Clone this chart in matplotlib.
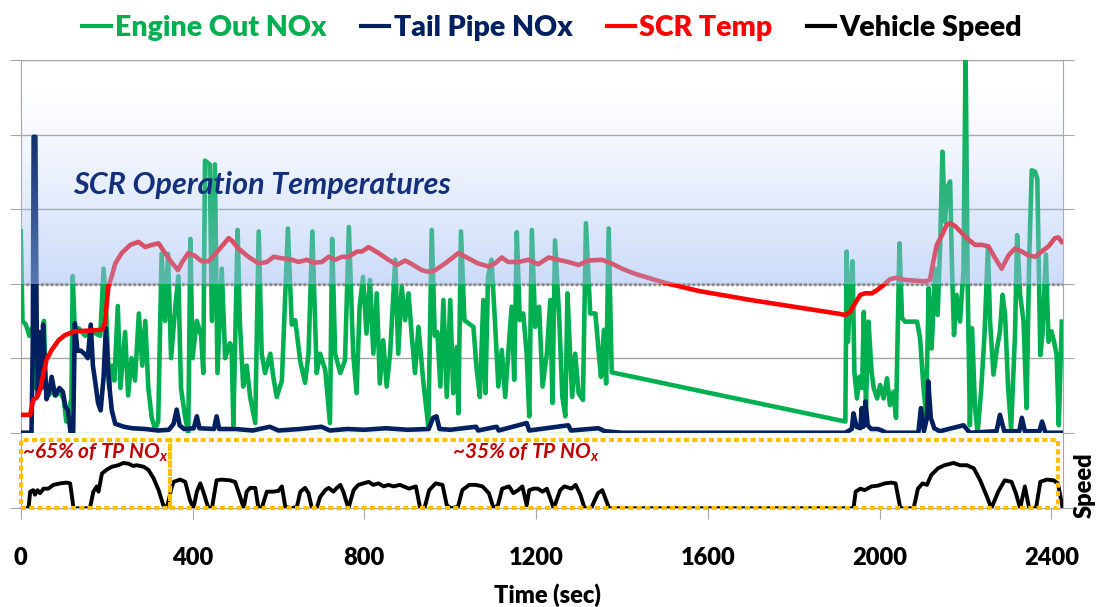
import numpy as np
import matplotlib.pyplot as plt
from matplotlib.lines import Line2D
from matplotlib.patches import Rectangle

# (time sec, value) -- NOx in chart grid units, temp in deg C, speed in mph
engine_out_nox = [
    (0, 2.7), (4, 1.5), (12, 1.45), (20, 1.3), (26, 1.4), (30, 1.35), (33, 0.6), (38, 1.3),
    (44, 0.6), (48, 0.9), (54, 1.5), (58, 0.6), (64, 0.5), (72, 0.55), (82, 0.5), (92, 0.55),
    (100, 0.45), (106, 0.15), (112, 0.3), (118, 0.45), (121, 2.1), (126, 1.35), (135, 1.4),
    (150, 1.3), (168, 1.35), (185, 1.3), (193, 2.2), (199, 1.6), (206, 0.6), (212, 0.9),
    (218, 0.7), (226, 1.7), (232, 0.6), (243, 1.35), (250, 0.5), (258, 1.0), (266, 0.7),
    (275, 1.6), (283, 0.9), (290, 1.5), (297, 0.6), (305, 0.2), (313, 0.05), (320, 0.15),
    (328, 2.4), (336, 1.5), (343, 2.4), (350, 1.0), (360, 1.7), (367, 2.1), (373, 0.6),
    (383, 0.2), (390, 0.0), (395, 2.6), (400, 1.0), (410, 1.5), (420, 1.3), (425, 0.8),
    (429, 3.65), (440, 3.6), (445, 1.5), (452, 3.6), (458, 0.8), (468, 2.2), (476, 1.0),
    (487, 1.2), (491, 1.15), (495, 0.1), (505, 2.72), (510, 1.5), (518, 0.62), (526, 0.9),
    (534, 0.48), (546, 0.13), (554, 2.7), (561, 1.06), (569, 0.8), (581, 1.06), (588, 0.75),
    (596, 0.48), (608, 0.7), (622, 2.74), (631, 1.45), (639, 1.51), (651, 0.95), (662, 0.67),
    (670, 1.06), (679, 2.7), (689, 0.8), (697, 1.06), (709, 0.84), (720, 0.13), (725, 2.6),
    (732, 1.06), (744, 0.8), (755, 0.97), (764, 2.76), (774, 1.06), (782, 0.53), (789, 1.69),
    (797, 2.09), (805, 1.33), (813, 2.05), (821, 1.06), (829, 1.87), (836, 0.66), (844, 1.24),
    (852, 0.62), (860, 1.06), (872, 2.32), (879, 1.06), (887, 1.96), (895, 1.51), (903, 1.87),
    (910, 1.33), (918, 0.8), (926, 1.42), (937, 0.7), (949, 0.08), (957, 2.72), (964, 1.3),
    (970, 1.35), (977, 0.62), (984, 1.78), (992, 0.48), (1000, 1.78), (1007, 0.53), (1015, 1.15),
    (1019, 0.26), (1025, 2.7), (1033, 1.51), (1042, 1.47), (1054, 1.42), (1061, 0.89),
    (1069, 0.48), (1077, 1.78), (1082, 0.53), (1088, 2.09), (1096, 2.32), (1104, 1.51),
    (1112, 0.62), (1120, 1.11), (1128, 0.48), (1135, 1.06), (1143, 1.69), (1149, 0.71),
    (1155, 2.69), (1162, 1.51), (1170, 1.6), (1178, 1.06), (1184, 0.22), (1190, 2.72),
    (1198, 1.42), (1207, 1.69), (1215, 0.62), (1225, 1.06), (1233, 1.78), (1238, 0.4),
    (1244, 2.58), (1254, 1.51), (1261, 0.48), (1268, 0.22), (1273, 1.87), (1279, 1.06),
    (1284, 0.48), (1291, 1.06), (1299, 0.53), (1309, 0.44), (1316, 2.81), (1326, 1.6),
    (1338, 1.6), (1346, 1.06), (1351, 0.75), (1358, 1.38), (1363, 0.66), (1369, 2.74),
    (1376, 0.81), (1920, 0.15), (1923, 2.43), (1926, 1.22), (1932, 1.94), (1937, 2.3),
    (1941, 0.82), (1947, 0.46), (1953, 0.75), (1959, 0.6), (1963, 1.62), (1968, 0.37),
    (1974, 1.49), (1981, 0.82), (1986, 0.6), (1994, 0.46), (2001, 0.64), (2009, 0.46),
    (2017, 0.73), (2024, 0.37), (2032, 0.55), (2038, 0.2), (2046, 2.54), (2052, 1.54),
    (2059, 1.49), (2075, 1.49), (2087, 1.49), (2094, 1.27), (2102, 0.6), (2108, 0.24),
    (2114, 1.94), (2121, 1.13), (2129, 2.2), (2135, 1.58), (2141, 2.56), (2146, 3.77),
    (2152, 2.83), (2157, 3.28), (2164, 3.37), (2168, 2.3), (2173, 1.31), (2179, 1.85),
    (2187, 1.49), (2195, 2.17), (2200, 5.07), (2205, 1.94), (2210, 0.1), (2215, 1.4),
    (2222, 0.33), (2228, 0.0), (2236, 0.55), (2244, 1.31), (2252, 2.48), (2257, 1.49),
    (2265, 0.78), (2273, 1.13), (2280, 1.36), (2286, 1.85), (2292, 1.58), (2299, 0.6),
    (2306, 0.06), (2315, 1.31), (2320, 2.65), (2327, 1.85), (2335, 1.49), (2342, 0.33),
    (2348, 2.3), (2354, 3.52), (2362, 3.5), (2367, 3.4), (2374, 1.04), (2379, 1.31),
    (2387, 2.39), (2393, 1.22), (2400, 1.36), (2406, 1.22), (2412, 1.04), (2417, 0.1),
    (2424, 1.49),
]

tail_pipe_nox = [
    (0, 0.0), (25, 0.0), (28, 1.2), (30, 3.97), (34, 3.97), (37, 1.5), (40, 0.5), (43, 1.35),
    (48, 0.6), (52, 1.45), (56, 0.9), (60, 0.45), (66, 0.55), (72, 0.75), (80, 0.5), (90, 0.6),
    (98, 0.55), (104, 0.35), (110, 0.3), (116, 0.0), (122, 0.0), (126, 1.47), (132, 1.1),
    (140, 1.1), (150, 1.05), (156, 1.0), (163, 1.45), (168, 0.9), (173, 0.7), (180, 0.4),
    (186, 0.3), (193, 0.75), (198, 1.4), (205, 0.7), (212, 0.3), (220, 0.12), (240, 0.08),
    (260, 0.06), (290, 0.05), (320, 0.03), (345, 0.04), (356, 0.12), (363, 0.31), (370, 0.1),
    (380, 0.05), (403, 0.06), (410, 0.22), (416, 0.06), (450, 0.05), (456, 0.22), (462, 0.05),
    (500, 0.05), (540, 0.03), (580, 0.08), (600, 0.03), (650, 0.05), (700, 0.08), (720, 0.03),
    (760, 0.05), (800, 0.04), (850, 0.06), (900, 0.04), (950, 0.05), (960, 0.2), (968, 0.22),
    (975, 0.05), (1000, 0.04), (1060, 0.08), (1065, 0.03), (1108, 0.08), (1113, 0.03),
    (1178, 0.13), (1184, 0.03), (1275, 0.1), (1281, 0.03), (1345, 0.06), (1360, 0.02),
    (1400, 0.0), (1920, 0.0), (1935, 0.05), (1939, 0.26), (1946, 0.08), (1955, 0.06),
    (1958, 0.33), (1962, 0.08), (1967, 0.42), (1972, 0.1), (1980, 0.05), (1995, 0.05),
    (2005, 0.03), (2015, 0.0), (2090, 0.0), (2096, 0.33), (2103, 0.02), (2110, 0.2),
    (2113, 0.69), (2119, 0.2), (2127, 0.06), (2140, 0.02), (2195, 0.1), (2210, 0.0),
    (2272, 0.02), (2280, 0.24), (2290, 0.02), (2325, 0.02), (2331, 0.2), (2338, 0.02),
    (2372, 0.02), (2378, 0.15), (2386, 0.0), (2424, 0.0),
]

scr_temp = [
    (0, 24), (22, 24), (29, 44), (37, 47), (45, 58), (53, 80), (60, 98), (72, 111), (88, 124),
    (103, 131), (126, 136), (158, 137), (189, 138), (196, 147), (204, 196), (212, 210),
    (220, 227), (235, 241), (255, 252), (274, 256), (290, 249), (305, 252), (321, 254),
    (336, 241), (352, 228), (366, 218), (375, 228), (390, 241), (406, 237), (421, 230),
    (437, 230), (452, 239), (468, 250), (484, 261), (491, 258), (507, 247), (530, 236),
    (554, 227), (573, 229), (589, 236), (608, 234), (631, 232), (647, 229), (666, 232),
    (682, 228), (701, 229), (717, 236), (732, 232), (748, 236), (763, 236), (783, 243),
    (794, 243), (810, 249), (833, 241), (856, 232), (876, 225), (895, 231), (914, 225),
    (934, 218), (949, 216), (965, 218), (988, 227), (1019, 241), (1042, 234), (1065, 227),
    (1089, 223), (1104, 227), (1120, 235), (1135, 229), (1159, 229), (1182, 232), (1205, 226),
    (1229, 235), (1252, 232), (1275, 229), (1299, 225), (1322, 231), (1353, 232), (1376, 227),
    (1400, 220), (1431, 213), (1466, 207), (1500, 201), (1580, 190), (1700, 178), (1800, 169),
    (1900, 160), (1920, 158), (1931, 162), (1943, 174), (1955, 185), (1966, 187), (1982, 187),
    (1993, 191), (2009, 198), (2024, 206), (2040, 208), (2059, 205), (2083, 204), (2106, 203),
    (2117, 205), (2125, 230), (2133, 252), (2145, 265), (2156, 279), (2164, 281), (2176, 277),
    (2191, 268), (2207, 259), (2222, 252), (2238, 252), (2253, 250), (2269, 234), (2284, 220),
    (2300, 238), (2315, 247), (2331, 243), (2346, 238), (2362, 236), (2377, 243), (2393, 250),
    (2408, 261), (2416, 262), (2424, 256),
]

vehicle_speed = [
    (0, 0), (18, 0), (22, 22), (29, 24), (33, 18), (39, 24), (45, 20), (53, 26), (64, 26),
    (76, 31), (92, 33), (107, 34), (115, 33), (123, 0), (134, 0), (161, 0), (169, 22),
    (177, 29), (181, 22), (189, 46), (200, 51), (212, 55), (227, 57), (239, 60), (251, 59),
    (262, 56), (270, 57), (286, 55), (297, 51), (309, 40), (321, 24), (332, 4), (340, 0),
    (352, 29), (356, 35), (371, 38), (383, 35), (394, 11), (402, 0), (410, 22), (418, 33),
    (425, 22), (437, 0), (445, 0), (456, 37), (468, 38), (487, 37), (499, 35), (511, 15),
    (519, 0), (526, 22), (534, 27), (546, 27), (553, 2), (561, 0), (573, 22), (588, 22),
    (600, 23), (608, 29), (616, 2), (631, 0), (643, 2), (651, 22), (662, 27), (670, 20),
    (678, 0), (689, 0), (697, 15), (709, 24), (717, 27), (728, 22), (736, 27), (744, 31),
    (751, 22), (763, 0), (775, 24), (786, 31), (798, 33), (810, 35), (821, 31), (833, 33),
    (845, 29), (856, 31), (868, 29), (883, 31), (904, 26), (920, 29), (930, 0), (940, 0),
    (951, 24), (966, 33), (982, 31), (992, 4), (1002, 0), (1018, 2), (1028, 24), (1044, 31),
    (1059, 31), (1075, 29), (1090, 20), (1101, 0), (1111, 4), (1121, 26), (1137, 29),
    (1147, 20), (1158, 24), (1168, 29), (1178, 4), (1184, 24), (1194, 26), (1204, 26),
    (1215, 22), (1225, 26), (1241, 0), (1256, 24), (1266, 29), (1282, 26), (1292, 31),
    (1303, 18), (1313, 0), (1328, 0), (1344, 20), (1354, 24), (1370, 0), (1939, 0), (1944, 22),
    (1955, 26), (1965, 24), (1981, 29), (1996, 30), (2012, 33), (2027, 34), (2037, 33),
    (2048, 0), (2068, 0), (2079, 0), (2089, 26), (2100, 33), (2110, 31), (2120, 44), (2136, 53),
    (2151, 57), (2172, 60), (2187, 57), (2203, 57), (2219, 53), (2234, 37), (2250, 15),
    (2260, 0), (2276, 22), (2291, 37), (2307, 35), (2317, 20), (2327, 0), (2338, 29), (2348, 0),
    (2364, 0), (2374, 35), (2389, 38), (2405, 37), (2415, 33), (2426, 0),
]

series_labels = ["Engine Out NOx", "Tail Pipe NOx", "SCR Temp", "Vehicle Speed"]
share_edges = [0, 348, 2416]  # sec, where the TP NOx share boxes split
share_labels = ["~65% of TP NO$_x$", "~35% of TP NO$_x$"]
scr_window = (200, 460)  # deg C, shaded operating band (fades out at the top)
x_ticks = [0, 400, 800, 1200, 1600, 2000, 2400]

plt.rcParams["font.family"] = ["Lato", "DejaVu Sans"]
plt.rcParams["mathtext.fontset"] = "custom"
plt.rcParams["mathtext.it"] = "Lato:italic:bold"
plt.rcParams["mathtext.rm"] = "Lato:italic:bold"

GREEN = "#00b050"
NAVY = "#002060"
RED = "#ff0000"
GRID = "#a6a6a6"
GOLD = "#ffc000"
DARKRED = "#c00000"
TITLE_BLUE = "#14307a"

fig = plt.figure(figsize=(10.98, 6.07), dpi=100)
ax = fig.add_axes([0.0189, 0.2871, 0.9493, 0.6141])
sax = fig.add_axes([0.0189, 0.1626, 0.9493, 0.1245], sharex=ax)
tax = ax.twinx()

# NOx panel
t, v = zip(*engine_out_nox)
ax.plot(t, v, color=GREEN, lw=3.3, zorder=3, solid_joinstyle="round")
t, v = zip(*tail_pipe_nox)
ax.plot(t, v, color=NAVY, lw=3.3, zorder=4, solid_joinstyle="round")
ax.axhline(2, color="#8c8c8c", lw=2.5, ls=(0, (0.8, 0.6)), zorder=2)

ax.set_xlim(0, 2427)
ax.set_ylim(0, 5)
ax.set_yticks(range(6))
ax.grid(axis="y", color=GRID, lw=1)
ax.set_axisbelow(True)
ax.tick_params(axis="y", length=8, color=GRID, labelleft=False, right=True)
ax.tick_params(axis="x", length=0, labelbottom=False)
for side in ["left", "right", "top"]:
    ax.spines[side].set_color(GRID)
ax.spines["bottom"].set_visible(False)

# temperature on twin axis, SCR window shading drawn over everything above it
t, v = zip(*scr_temp)
tax.plot(t, v, color=RED, lw=3.3, zorder=2, solid_joinstyle="round")
tax.set_ylim(0, 500)
tax.set_yticks([])
for side in tax.spines:
    tax.spines[side].set_visible(False)

rows = 256
frac = np.linspace(0, 1, rows)
alpha = 0.55 * np.clip(1 - frac, 0, 1) ** 1.1
grad = np.zeros((rows, 2, 4))
grad[..., 0] = 0.64
grad[..., 1] = 0.75
grad[..., 2] = 0.96
grad[..., 3] = alpha[:, None]
tax.imshow(grad, origin="lower", aspect="auto", zorder=5,
           extent=[0, 2427, scr_window[0], scr_window[1]], interpolation="bilinear")
tax.set_xlim(0, 2427)
tax.set_ylim(0, 500)

tax.text(122, 3.32, "SCR Operation Temperatures", transform=ax.transData,
         color=TITLE_BLUE, fontsize=22, fontweight="bold", fontstyle="italic",
         va="center", ha="left", zorder=6)

# speed panel
t, v = zip(*vehicle_speed)
sax.plot(t, v, color="black", lw=2.8, zorder=2, solid_joinstyle="round")
sax.set_ylim(0, 100)
sax.set_xticks(x_ticks)
sax.set_yticks([0])
sax.tick_params(axis="x", length=8, color=GRID, pad=20, labelsize=17)
sax.tick_params(axis="y", length=8, color=GRID, labelleft=False, right=True)
for lab in sax.get_xticklabels():
    lab.set_fontweight("heavy")
for side in ["left", "right", "bottom"]:
    sax.spines[side].set_color(GRID)
sax.spines["top"].set_visible(False)

label_x = [3, 1004]
for i, text in enumerate(share_labels):
    x0, x1 = share_edges[i], share_edges[i + 1]
    sax.add_patch(Rectangle((x0, 0), x1 - x0, 90, fill=False, edgecolor=GOLD, lw=3,
                            ls=(0, (1.2, 0.8)), clip_on=False, zorder=3))
    sax.text(label_x[i], 74, text, color=DARKRED, fontsize=15, fontweight="bold",
             fontstyle="italic", va="center", ha="left", zorder=4)

fig.text(0.499, 0.02, "Time (sec)", ha="center", va="center", fontsize=17, fontweight="heavy")
fig.text(0.988, 0.2, "Speed", ha="center", va="center", rotation=90, fontsize=17,
         fontweight="heavy")

colors = [GREEN, NAVY, RED, "black"]
handles = [Line2D([], [], color=c, lw=3) for c in colors]
leg = fig.legend(handles, series_labels, loc="center", bbox_to_anchor=(0.503, 0.954), ncol=4,
                 frameon=False, prop={"weight": "heavy", "size": 20.5}, handlelength=1.0,
                 handletextpad=0.15, columnspacing=1.2)
for txt, c in zip(leg.get_texts(), colors):
    txt.set_color(c)

fig.savefig("out.png", dpi=100)
